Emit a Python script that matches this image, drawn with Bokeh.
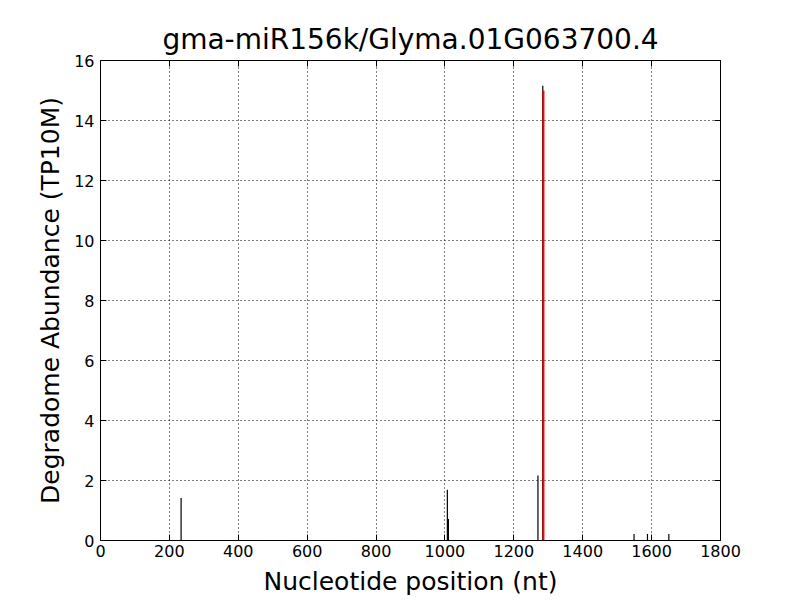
from bokeh.plotting import figure
from bokeh.models import Range1d, LinearAxis, FixedTicker, ColumnDataSource, CustomLabelingPolicy
from bokeh.embed import file_html
from bokeh.resources import INLINE

title = "gma-miR156k/Glyma.01G063700.4"
x_label = "Nucleotide position (nt)"
y_label = "Degradome Abundance (TP10M)"

positions = [234, 1007, 1010, 1270, 1284, 1549, 1588, 1650]
abundance = [1.42, 1.69, 0.72, 2.17, 15.16, 0.22, 0.22, 0.22]

site_pos = [1286]
site_abundance = [15.0]

x_ticks = [0, 200, 400, 600, 800, 1000, 1200, 1400, 1600, 1800]
y_ticks = [0, 2, 4, 6, 8, 10, 12, 14, 16]

FONT = "DejaVu Sans"

p = figure(width=800, height=600, output_backend="svg", toolbar_location=None,
           x_range=Range1d(0, 1800), y_range=Range1d(0, 16),
           min_border_left=100, min_border_right=80, min_border_top=60, min_border_bottom=60,
           background_fill_color="white", border_fill_color="white")

p.title.text = title
p.title.align = "center"
p.title.text_font = FONT
p.title.text_font_size = "28px"
p.title.text_font_style = "normal"
p.title.text_color = "black"
p.title.offset = 0
p.title.standoff = 1

p.outline_line_color = "black"
p.outline_line_width = 1
p.outline_line_alpha = 1

for ax in [p.xaxis[0], p.yaxis[0]]:
    ax.axis_line_color = None
    ax.major_tick_in = 6
    ax.major_tick_out = 0
    ax.minor_tick_line_color = None
    ax.major_tick_line_color = "black"
    ax.major_label_text_font = FONT
    ax.major_label_text_font_size = "16px"
    ax.major_label_text_color = "black"
    ax.axis_label_text_font = FONT
    ax.axis_label_text_font_size = "25px"
    ax.axis_label_text_font_style = "normal"
    ax.axis_label_text_color = "black"

p.xaxis[0].ticker = FixedTicker(ticks=x_ticks)
p.yaxis[0].ticker = FixedTicker(ticks=y_ticks)
p.xaxis[0].axis_label = x_label
p.yaxis[0].axis_label = y_label
p.xaxis[0].major_label_standoff = 4
p.yaxis[0].major_label_standoff = 6
p.xaxis[0].axis_label_standoff = 7
p.yaxis[0].axis_label_standoff = 6

# mirrored ticks on top and right (no labels)
hide_all = CustomLabelingPolicy(code="for (const i of indices) { indices.unset(i) }\nreturn indices")
for loc, tk in [("above", x_ticks), ("right", y_ticks)]:
    a = LinearAxis(ticker=FixedTicker(ticks=tk), major_label_text_font_size="1px",
                   major_label_policy=hide_all,
                   axis_line_color=None, major_tick_in=6, major_tick_out=0,
                   minor_tick_line_color=None, major_tick_line_color="black",
                   major_label_standoff=0)
    p.add_layout(a, loc)

p.xgrid.ticker = FixedTicker(ticks=x_ticks)
p.ygrid.ticker = FixedTicker(ticks=y_ticks)
for g in [p.xgrid[0], p.ygrid[0]]:
    g.grid_line_color = "black"
    g.grid_line_dash = "1 3"
    g.grid_line_width = 1
    g.grid_line_alpha = 1

src = ColumnDataSource(dict(x=positions, y=abundance, y0=[0] * len(positions)))
p.segment(x0="x", y0="y0", x1="x", y1="y", source=src, line_color="black", line_width=1.2)

src2 = ColumnDataSource(dict(x=site_pos, y=site_abundance, y0=[0] * len(site_pos)))
p.segment(x0="x", y0="y0", x1="x", y1="y", source=src2, line_color="red", line_width=2)

open("out.html", "w").write(file_html(p, INLINE))
